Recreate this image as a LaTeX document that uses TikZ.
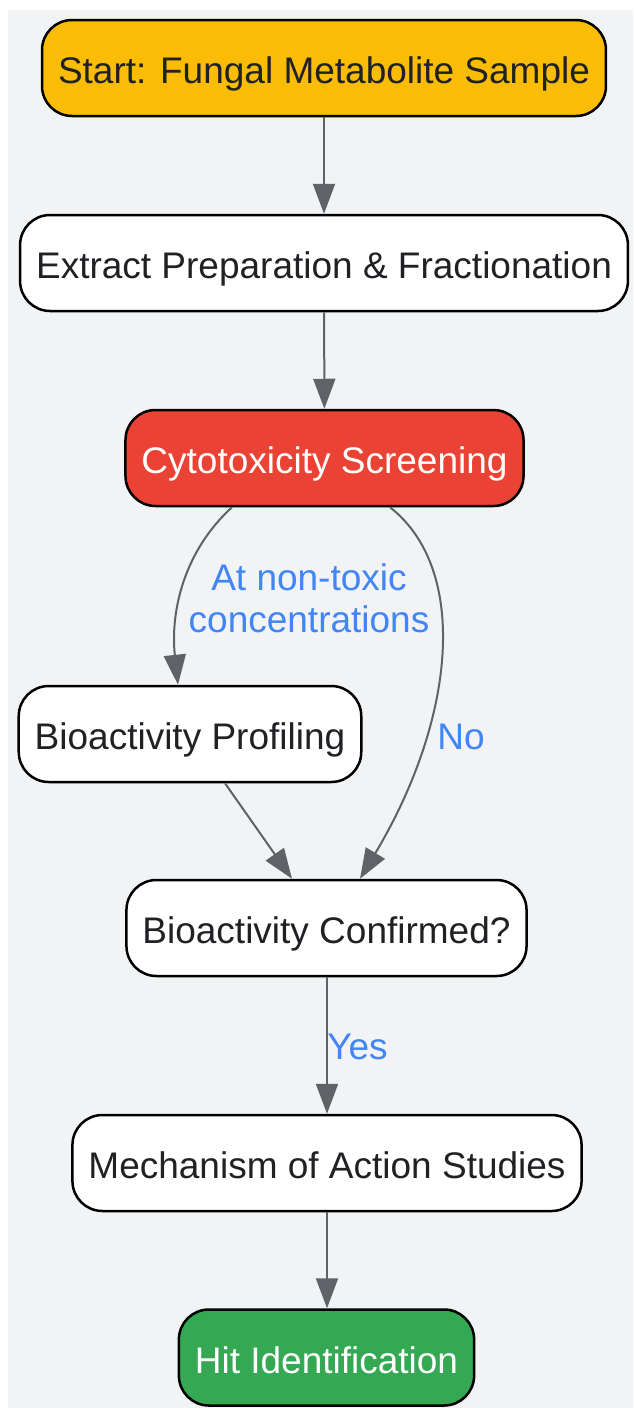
\documentclass[tikz,border=0pt]{standalone}
\usepackage{fontspec}
\setmainfont{Liberation Sans}
\usetikzlibrary{arrows.meta}
\usetikzlibrary{positioning}
\definecolor{bg}{RGB}{241,243,244}
\definecolor{ln}{RGB}{95,99,104}
\definecolor{tx}{RGB}{32,33,36}
\definecolor{lb}{RGB}{66,133,244}
\definecolor{yl}{RGB}{251,188,5}
\definecolor{rd}{RGB}{234,67,53}
\definecolor{gr}{RGB}{52,168,83}

\begin{document}
\begin{tikzpicture} [
    x=1pt, y=-1pt,
    box/.style={
        font=\fontsize{37}{42}\selectfont,
        text=tx, draw=black, line width=2.5pt, fill=white,
        rounded corners=30pt,
        minimum height=96pt, inner xsep=16pt,
        text height=32pt, text depth=1pt
    },
    lbl/.style={
        font=\fontsize{37}{42}\selectfont,
        text=lb, align=center, inner sep=0pt
    },
    e/.style={
        draw=ln, line width=2pt,
        -{Triangle[length=30pt,width=22pt]}
    }
]

\useasboundingbox (0,0) rectangle (633,1408);
\fill [bg] (8,10) rectangle (633,1408);

\node [box,fill=yl] (start) at (324,68)        {Start: Fungal Metabolite Sample};
\node [box] (extract) at (324,263)             {Extract Preparation \& Fractionation};
\node [box,fill=rd,text=white] (cyto) at (324.5,458) {Cytotoxicity Screening};
\node [box] (profiling) at (190,734)           {Bioactivity Profiling};
\node [box] (confirmed) at (326.5,928)         {Bioactivity Confirmed?};
\node [box] (moa) at (327,1163)                {Mechanism of Action Studies};
\node [box,fill=gr,text=white] (hit) at (326.5,1357.5) {Hit Identification};

\draw [e] (start) -- (extract);
\draw [e] (extract) -- (cyto);

% curved branches out of the screening step
\draw [e] ([xshift=-92.5pt]cyto.south)
    .. controls (185,550) and (170,610) .. ([xshift=-12pt]profiling.north);
\draw [e] ([xshift=65.5pt]cyto.south)
    .. controls (470,570) and (455,720) .. ([xshift=33.5pt]confirmed.north);

\node [lbl] (l1) at (309,598) {At non-toxic\\concentrations};
\node [lbl] (l2) at (461,737) {No};

\draw [e] ([xshift=35pt]profiling.south) -- ([xshift=-34.5pt]confirmed.north);
\draw [e] ([xshift=0.5pt]confirmed.south) -- ([xshift=0pt]moa.north);
\node [lbl] (l3) at (357.5,1047) {Yes};
\draw [e] (moa.south) -- ([xshift=0.5pt]hit.north);

\end{tikzpicture}
\end{document}
